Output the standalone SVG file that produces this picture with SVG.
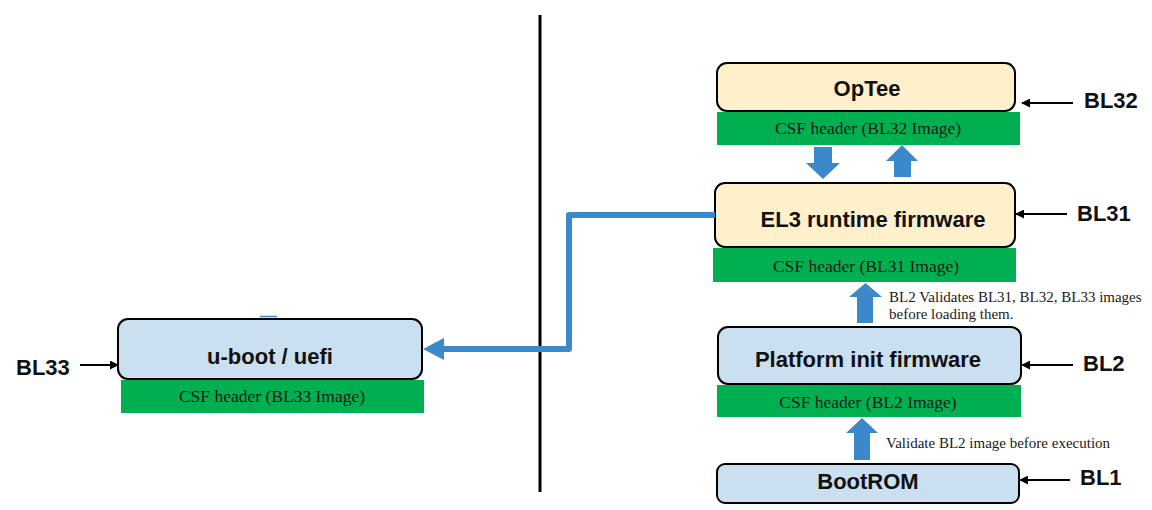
<svg xmlns="http://www.w3.org/2000/svg" width="1152" height="510" viewBox="0 0 1152 510">
<defs>
<style>
.box{stroke:#000;stroke-width:2}
.beige{fill:#FFF0CC}
.lblue{fill:#CADFF0}
.csf{fill:#00B050}
.title{font-family:"Liberation Sans",Arial,sans-serif;font-weight:bold;font-size:22px;fill:#111;text-anchor:middle}
.csft{font-family:"Liberation Serif","Times New Roman",serif;font-size:17.5px;fill:#1a1a1a;text-anchor:middle}
.bl{font-family:"Liberation Sans",Arial,sans-serif;font-weight:bold;font-size:22px;fill:#111}
.note{font-family:"Liberation Serif","Times New Roman",serif;font-size:15px;fill:#1a1a1a}
.fat{fill:#3B88CA}
.ptr{stroke:#000;stroke-width:2;fill:none}
</style>
<marker id="ah" viewBox="0 0 10 10" refX="9" refY="5" markerWidth="4.5" markerHeight="4.5" orient="auto" markerUnits="strokeWidth">
<path d="M0,0 L10,5 L0,10 z" fill="#000"/>
</marker>
</defs>
<rect width="1152" height="510" fill="#fff"/>

<line x1="540" y1="15" x2="540" y2="492" stroke="#000" stroke-width="3"/>

<g id="optee">
<rect x="717" y="112" width="303" height="33" class="csf"/>
<rect x="717" y="63" width="298" height="48" rx="10" class="box beige"/>
<text x="867" y="96" class="title">OpTee</text>
<text x="868" y="134" class="csft">CSF header (BL32 Image)</text>
</g>

<g id="el3">
<rect x="713" y="248" width="303" height="34" class="csf"/>
<rect x="715" y="183" width="300" height="64" rx="10" class="box beige"/>
<text x="873" y="227" class="title">EL3 runtime firmware</text>
<text x="866" y="272" class="csft">CSF header (BL31 Image)</text>
</g>

<g id="platform">
<rect x="717" y="385" width="304" height="32" class="csf"/>
<rect x="718" y="327" width="303" height="57" rx="10" class="box lblue"/>
<text x="868" y="367" class="title">Platform init firmware</text>
<text x="868" y="408" class="csft">CSF header (BL2 Image)</text>
</g>

<g id="bootrom">
<rect x="717" y="464" width="302" height="39" rx="8" class="box lblue"/>
<text x="868" y="489" class="title">BootROM</text>
</g>

<g id="uboot">
<rect x="121" y="380" width="303" height="33" class="csf"/>
<rect x="118" y="319" width="304" height="60" rx="10" class="box lblue"/>
<text x="270" y="364" class="title">u-boot / uefi</text>
<text x="272" y="402" class="csft">CSF header (BL33 Image)</text>
<line x1="260" y1="316.5" x2="277" y2="316.5" stroke="#3B88CA" stroke-width="1.5"/>
</g>

<g id="labels">
<text x="1084" y="108" class="bl">BL32</text>
<text x="1077" y="221" class="bl">BL31</text>
<text x="1083" y="371" class="bl">BL2</text>
<text x="1080" y="485" class="bl">BL1</text>
<text x="16" y="375" class="bl">BL33</text>
<text x="889" y="302" class="note">BL2 Validates BL31, BL32, BL33 images</text>
<text x="889" y="319" class="note">before loading them.</text>
<text x="886" y="448" class="note">Validate BL2 image before execution</text>
</g>

<g id="connectors">
<line x1="1073" y1="103" x2="1022" y2="103" class="ptr" marker-end="url(#ah)"/>
<line x1="1067" y1="214" x2="1016" y2="214" class="ptr" marker-end="url(#ah)"/>
<line x1="1073" y1="365" x2="1022" y2="365" class="ptr" marker-end="url(#ah)"/>
<line x1="1070" y1="480" x2="1020" y2="480" class="ptr" marker-end="url(#ah)"/>
<line x1="80" y1="365" x2="118" y2="365" class="ptr" marker-end="url(#ah)"/>

<path d="M814,147 H832 V163 H840 L823,179 L806,163 H814 Z" class="fat"/>
<path d="M894,177 V161 H886 L902,145 L918,161 H911 V177 Z" class="fat"/>
<path d="M857,323 V297 H849 L865.5,283 L882,297 H873 V323 Z" class="fat"/>
<path d="M854,460 V433 H846 L862,418 L878,433 H870 V460 Z" class="fat"/>

<path d="M715,215 H569 V349 H440" fill="none" stroke="#3B88CA" stroke-width="6" stroke-linejoin="round"/>
<path d="M423,349 L444,338 L444,360 Z" class="fat"/>
</g>
</svg>
